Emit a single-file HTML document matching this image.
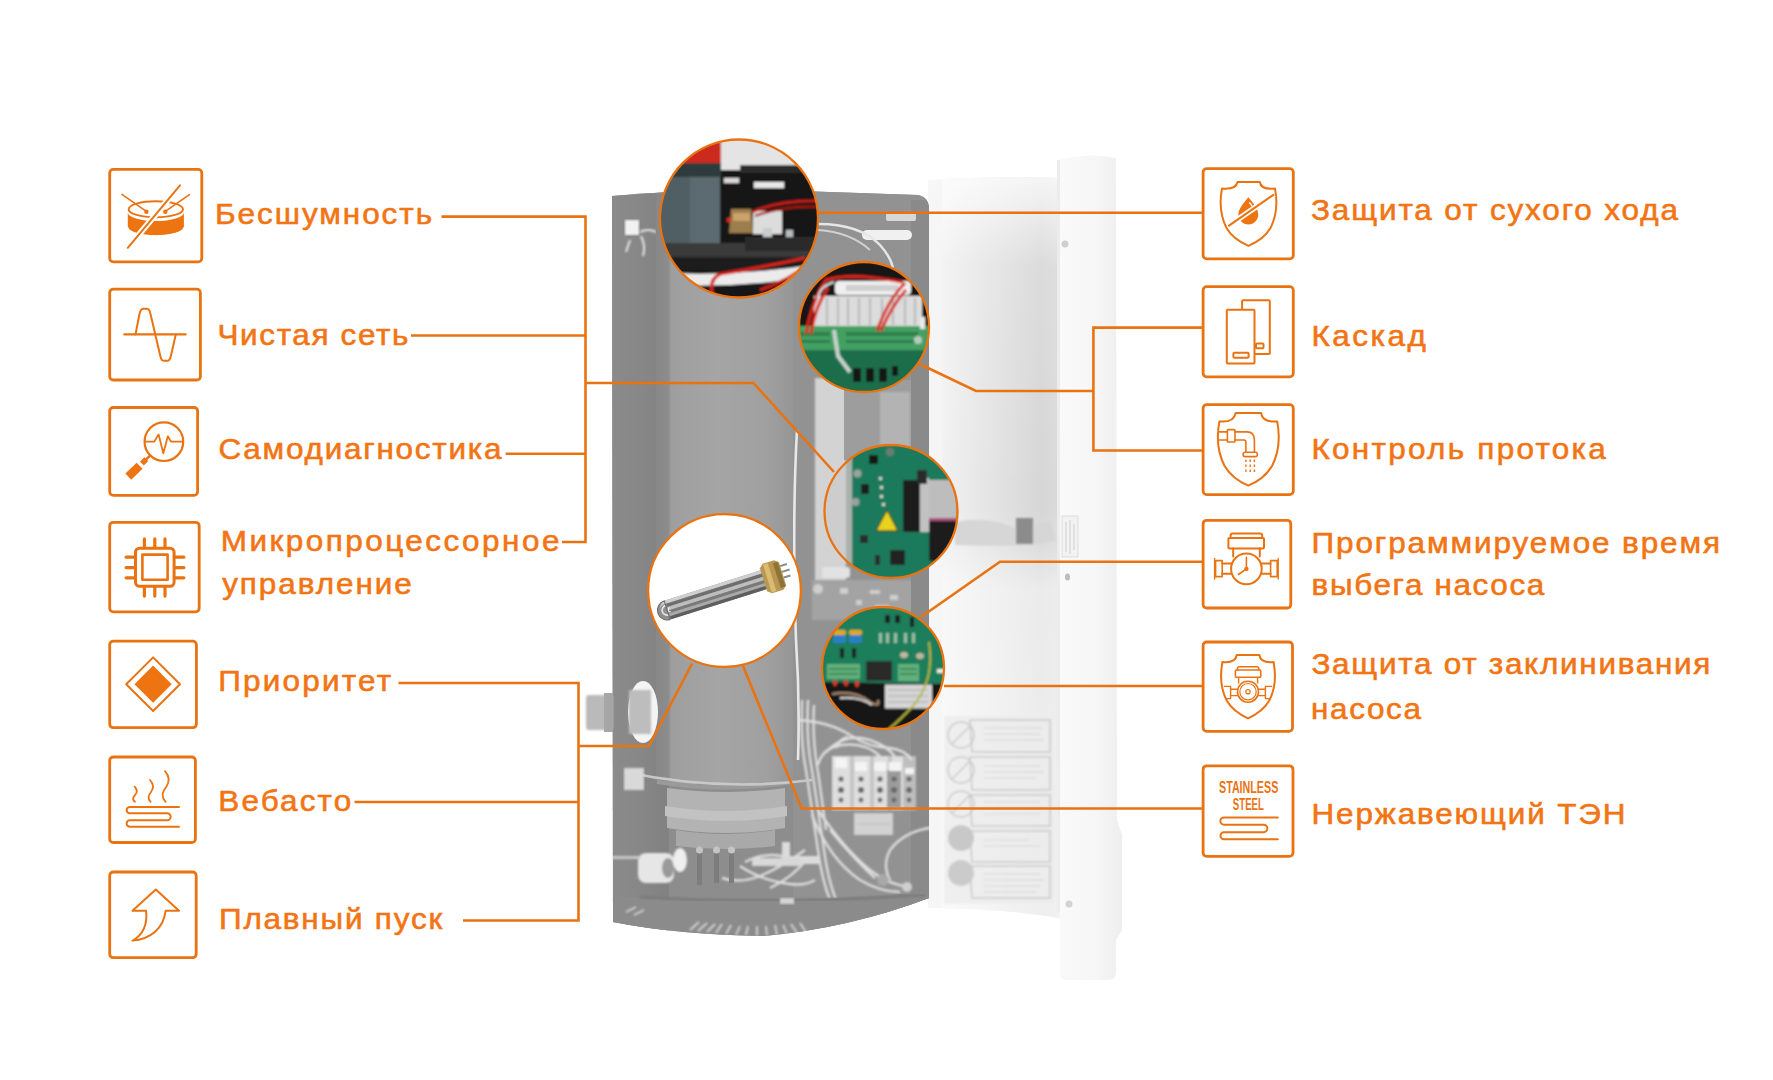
<!DOCTYPE html>
<html lang="ru">
<head>
<meta charset="utf-8">
<title>Электрокотел — особенности</title>
<style>
html,body{margin:0;padding:0;background:#fff;}
body{width:1773px;height:1080px;overflow:hidden;position:relative;}
svg{position:absolute;left:0;top:0;display:block;}
.lbl{font-family:"Liberation Sans",sans-serif;font-weight:400;font-size:28.6px;fill:#F27413;stroke:#F27413;stroke-width:0.55px;}
.ln{stroke:#EA7311;stroke-width:2.6;fill:none;}
.bx{stroke:#EA7311;stroke-width:2.8;fill:#fff;}
.ic{stroke:#EA7311;fill:none;stroke-width:2;stroke-linecap:round;stroke-linejoin:round;}
.icf{fill:#EE7412;stroke:none;}
</style>
</head>
<body>
<svg width="1773" height="1080" viewBox="0 0 1773 1080">
<defs>
  <filter id="blur07" x="-5%" y="-5%" width="110%" height="110%"><feGaussianBlur stdDeviation="1"/></filter>
  <filter id="blur1" x="-5%" y="-5%" width="110%" height="110%"><feGaussianBlur stdDeviation="1"/></filter>
  <filter id="blur2" x="-10%" y="-10%" width="120%" height="120%"><feGaussianBlur stdDeviation="2"/></filter>
</defs>

<!-- BOILER -->
<g id="boiler">
  <defs>
    <linearGradient id="doorIn" x1="0" x2="1" y1="0" y2="0">
      <stop offset="0" stop-color="#f5f5f5"/>
      <stop offset="0.12" stop-color="#f1f1f1"/>
      <stop offset="0.5" stop-color="#e3e3e3"/>
      <stop offset="0.85" stop-color="#d6d6d6"/>
      <stop offset="0.97" stop-color="#dadada"/>
      <stop offset="1" stop-color="#e6e6e6"/>
    </linearGradient>
    <linearGradient id="doorInV" gradientUnits="userSpaceOnUse" x1="0" x2="0" y1="178" y2="910">
      <stop offset="0" stop-color="#fff" stop-opacity="0.75"/>
      <stop offset="0.05" stop-color="#fff" stop-opacity="0.5"/>
      <stop offset="0.12" stop-color="#fff" stop-opacity="0.12"/>
      <stop offset="0.45" stop-color="#fff" stop-opacity="0"/>
      <stop offset="0.5" stop-color="#fff" stop-opacity="0.15"/>
      <stop offset="0.56" stop-color="#fff" stop-opacity="0.5"/>
      <stop offset="1" stop-color="#fff" stop-opacity="0.6"/>
    </linearGradient>
    <linearGradient id="doorFr" x1="0" x2="1" y1="0" y2="0">
      <stop offset="0" stop-color="#fafafa"/>
      <stop offset="0.6" stop-color="#f6f6f6"/>
      <stop offset="1" stop-color="#eeeeee"/>
    </linearGradient>
    <linearGradient id="tank" x1="0" x2="1" y1="0" y2="0">
      <stop offset="0" stop-color="#888888"/>
      <stop offset="0.09" stop-color="#8c8c8c"/>
      <stop offset="0.11" stop-color="#9e9e9e"/>
      <stop offset="0.45" stop-color="#a5a5a5"/>
      <stop offset="0.8" stop-color="#a0a0a0"/>
      <stop offset="1" stop-color="#969696"/>
    </linearGradient>
    <linearGradient id="lpanel" x1="0" x2="1" y1="0" y2="0">
      <stop offset="0" stop-color="#8b8b8b"/>
      <stop offset="0.5" stop-color="#878787"/>
      <stop offset="1" stop-color="#818181"/>
    </linearGradient>
    <linearGradient id="tenG" x1="0" x2="0" y1="0" y2="1">
      <stop offset="0" stop-color="#c9c9c9"/>
      <stop offset="0.3" stop-color="#7d7d7d"/>
      <stop offset="0.5" stop-color="#b5b5b5"/>
      <stop offset="0.75" stop-color="#8a8a8a"/>
      <stop offset="1" stop-color="#5c5c5c"/>
    </linearGradient>
    <clipPath id="cc1"><circle cx="739" cy="218.5" r="79"/></clipPath>
    <clipPath id="cc2"><circle cx="864" cy="327" r="65"/></clipPath>
    <clipPath id="cc3"><circle cx="891" cy="511.5" r="66.5"/></clipPath>
    <clipPath id="cc4"><circle cx="724.5" cy="590.5" r="75.5"/></clipPath>
    <clipPath id="cc5"><circle cx="883" cy="668" r="61"/></clipPath>
    <clipPath id="body"><path d="M612,196 Q700,188 800,191 L918,195 Q929,197 929,210 L929,898 Q850,928 764,936 Q680,935 613,922 Z"/></clipPath>
  </defs>

  <!-- door (behind) -->
  <path d="M928,180 Q990,176 1060,178 L1061,918 Q1000,908 928,908 Z" fill="url(#doorIn)"/>
  <path d="M928,180 Q990,176 1060,178 L1061,918 Q1000,908 928,908 Z" fill="url(#doorInV)"/>
  <rect x="928" y="180" width="14" height="728" fill="#f5f5f5" opacity="0.8"/>
  <path d="M1058,160 Q1088,152 1116,158 L1117,820 L1122,835 L1122,930 L1116,940 L1116,972 Q1116,980 1108,980 L1066,980 Q1060,980 1060,972 Z" fill="url(#doorFr)"/>
  <rect x="1057" y="160" width="3" height="752" fill="#ececec"/>
  <!-- door hinge pins -->
  <circle cx="1065" cy="244" r="3.5" fill="#cfcfcf"/>
  <ellipse cx="1067.5" cy="577" rx="2.5" ry="3.5" fill="#bcbcbc"/>
  <rect x="1062" y="516" width="16" height="41" fill="#f2f2f2" stroke="#d8d8d8" stroke-width="0.8"/>
  <path d="M1066,522 V552 M1070,520 V554 M1074,524 V550" stroke="#c8c8c8" stroke-width="0.8"/>
  <circle cx="1069" cy="904" r="3.5" fill="#d3d3d3"/>
  <!-- ribbon cable to door -->
  <g filter="url(#blur1)">
    <path d="M955,522 Q990,515 1020,530 L1050,520 L1056,540 Q1030,548 955,545 Z" fill="#d6d6d6"/>
    <rect x="1016" y="518" width="17" height="26" fill="#8c8c8c"/>
  </g>
  <!-- door warning labels -->
  <g filter="url(#blur1)" opacity="0.75">
    <rect x="944" y="716" width="110" height="188" fill="#ececec"/>
    <g fill="none" stroke="#bdbdbd" stroke-width="1.6">
      <path d="M970,720 H1050 V752 H972 Z M970,757 H1050 V790 H972 Z M970,795 H1050 V826 H972 Z M970,831 H1050 V862 H972 Z M970,866 H1050 V898 H972 Z"/>
      <circle cx="961" cy="735" r="13"/><circle cx="961" cy="770" r="13"/><circle cx="961" cy="804" r="13"/>
      <path d="M952,744 L970,726 M952,779 L970,761 M952,813 L970,795"/>
    </g>
    <circle cx="961" cy="838" r="13" fill="#b9b9b9"/>
    <circle cx="961" cy="873" r="13" fill="#bdbdbd"/>
    <g stroke="#c9c9c9" stroke-width="1.2">
      <path d="M984,728 H1042 M984,734 H1040 M984,740 H1044 M984,766 H1040 M984,772 H1044 M984,778 H1036 M984,802 H1040 M984,808 H1044 M984,814 H1040 M984,840 H1030 M984,846 H1040 M984,874 H1040 M984,880 H1044 M984,886 H1040 M984,892 H1036"/>
    </g>
  </g>

  <!-- body back panel -->
  <g clip-path="url(#body)">
    <rect x="600" y="180" width="340" height="770" fill="#8d8d8d"/>
    <rect x="612" y="180" width="57" height="770" fill="url(#lpanel)"/>
    <!-- right interior -->
    <rect x="793" y="180" width="140" height="770" fill="#929292"/>
    <rect x="815" y="378" width="31" height="205" fill="#d3d3d3" filter="url(#blur1)"/>
    <rect x="822" y="567" width="28" height="11" rx="3" fill="#e2e2e2" filter="url(#blur07)"/>
    <rect x="844" y="380" width="68" height="80" fill="#9d9d9d"/>
    <rect x="880" y="392" width="30" height="60" fill="#b3b3b3" filter="url(#blur1)"/>
    <rect x="812" y="580" width="100" height="40" fill="#a3a3a3" filter="url(#blur1)"/>
    <g fill="#cfcfcf" filter="url(#blur07)"><circle cx="818" cy="589" r="5"/><rect x="840" y="588" width="8" height="6"/><rect x="856" y="600" width="6" height="5"/><rect x="870" y="590" width="10" height="4"/><rect x="890" y="595" width="8" height="5"/><rect x="875" y="605" width="14" height="4"/></g>
    <rect x="911" y="200" width="18" height="700" fill="#8a8a8a"/>
    <rect x="862" y="230" width="50" height="10" rx="5" fill="#f0f0f0"/>
    <rect x="886" y="213" width="30" height="8" rx="2" fill="#d8d8d8"/>
    <path d="M818,224 Q860,224 880,245 Q895,262 893,275" stroke="#e6e6e6" stroke-width="2.5" fill="none"/>
    <path d="M818,230 Q850,232 870,250" stroke="#d0d0d0" stroke-width="2" fill="none"/>
    <!-- wire loop left side -->
    <path d="M797,430 Q792,520 796,640 Q800,700 798,760" stroke="#e8e8e8" stroke-width="2.6" fill="none"/>
    <!-- lower interior: wires & terminal block -->
    <g filter="url(#blur07)">
      <rect x="832" y="756" width="84" height="54" fill="#dedede"/>
      <g fill="#c4c4c4"><rect x="850" y="756" width="4" height="54"/><rect x="870" y="756" width="4" height="54"/><rect x="888" y="756" width="4" height="54"/></g>
      <rect x="887" y="770" width="14" height="38" fill="#9c9c9c"/>
      <rect x="903" y="756" width="13" height="54" fill="#bdbdbd"/>
      <g fill="#f4f4f4"><rect x="835" y="758" width="12" height="10"/><rect x="855" y="762" width="12" height="9"/><rect x="874" y="762" width="12" height="9"/><rect x="889" y="762" width="12" height="9"/><rect x="905" y="768" width="9" height="6"/></g>
      <g fill="#6a6a6a">
        <circle cx="841" cy="779" r="2.6"/><circle cx="861" cy="779" r="2.6"/><circle cx="880" cy="779" r="2.6"/><circle cx="894" cy="779" r="2.6"/><circle cx="909" cy="779" r="2.6"/>
        <circle cx="841" cy="790" r="3"/><circle cx="861" cy="790" r="3"/><circle cx="880" cy="790" r="3"/><circle cx="894" cy="790" r="3"/><circle cx="909" cy="790" r="3"/>
        <circle cx="841" cy="800" r="2.4"/><circle cx="861" cy="800" r="2.4"/><circle cx="880" cy="800" r="2.4"/><circle cx="894" cy="800" r="2.4"/><circle cx="909" cy="800" r="2.4"/>
      </g>
      <rect x="854" y="813" width="39" height="22" fill="#d2d2d2"/>
      <path d="M857,824 H890" stroke="#bbbbbb" stroke-width="1.2"/>
      <g stroke="#dedede" stroke-width="2.4" fill="none">
        <path d="M802,700 Q800,740 806,770 Q812,810 818,850 Q822,880 830,900"/>
        <path d="M808,700 Q806,740 812,770 Q818,810 824,850 Q828,880 836,900"/>
        <path d="M814,705 Q812,740 818,772 Q822,800 826,830"/>
        <path d="M798,720 Q830,722 850,735 Q870,748 890,748 Q905,750 912,760"/>
        <path d="M818,765 Q822,748 842,745 Q865,742 880,756"/>
        <path d="M826,752 Q845,732 870,740 Q888,746 895,757"/>
        <path d="M836,748 Q840,738 848,737"/>
        <path d="M812,815 Q830,860 860,880 Q880,892 900,892"/>
        <path d="M818,810 Q845,850 870,870 Q890,885 906,886"/>
        <path d="M936,827 Q905,830 890,850 Q882,865 890,880"/>
        <path d="M830,830 Q855,860 875,878"/>
        <path d="M805,850 Q780,868 760,876 Q740,884 722,878"/>
        <path d="M808,858 Q792,878 770,888"/>
        <path d="M745,862 Q772,848 800,862"/>
        <path d="M740,866 Q760,880 790,884 Q805,886 815,880"/>
      </g>
      <circle cx="883" cy="880" r="6" fill="#a9a9a9"/>
      <circle cx="907" cy="887" r="5" fill="#cfcfcf"/>
      <path d="M782,842 h8 v14 h30 v8 h-38 Z" fill="#dcdcdc"/>
      <rect x="752" y="858" width="48" height="8" fill="#d8d8d8"/>
    </g>
    <!-- left upper panel details -->
    <rect x="625" y="220" width="14" height="15" fill="#f2f2f2" filter="url(#blur1)"/>
    <path d="M640,232 Q648,228 656,232 M641,236 Q646,246 643,256 M630,240 L626,252" stroke="#e6e6e6" stroke-width="2" fill="none" filter="url(#blur1)"/>
    <!-- tank -->
    <rect x="656" y="190" width="137" height="594" fill="url(#tank)"/>
    <path d="M657,780 Q725,790 793,780 L793,784 Q725,795 657,784 Z" fill="#9a9a9a"/>
    <!-- strap & bracket -->
    <path d="M625,772 Q720,792 812,780" stroke="#c8c8c8" stroke-width="2.6" fill="none"/>
    <path d="M624,768 H644 V790 H624 Z" fill="#d9d9d9" filter="url(#blur1)"/>
    <!-- flange -->
    <path d="M667,788 Q726,796 785,788 L785,828 Q726,838 667,828 Z" fill="#b3b3b3"/>
    <path d="M665,806 Q726,816 787,806 L787,816 Q726,826 665,816 Z" fill="#c2c2c2"/>
    <path d="M676,830 Q726,838 775,830 L775,846 Q726,852 676,846 Z" fill="#a9a9a9"/>
    <!-- heater pins -->
    <g fill="#7d7d7d">
      <rect x="697" y="847" width="5" height="38"/><rect x="714" y="847" width="5" height="36"/><rect x="729" y="847" width="5" height="36"/>
    </g>
    <g fill="#c4c4c4"><circle cx="699.5" cy="850" r="3.5"/><circle cx="716.5" cy="850" r="3.5"/><circle cx="731.5" cy="850" r="3.5"/></g>
    <!-- hole & fittings left -->
    <ellipse cx="643" cy="712" rx="15" ry="31" fill="#f4f4f4"/>
    <rect x="629" y="690" width="22" height="44" fill="#bdbdbd" filter="url(#blur1)"/>
    <!-- cable gland bottom -->
    <g filter="url(#blur1)">
      <rect x="638" y="853" width="36" height="30" rx="8" fill="#e6e6e6"/>
      <ellipse cx="668" cy="868" rx="6" ry="10" fill="#9a9a9a"/>
      <ellipse cx="680" cy="860" rx="7" ry="12" fill="#efefef"/>
      <rect x="610" y="856" width="30" height="3" fill="#c8c8c8"/>
    </g>
    <!-- base plate & slats -->
    <path d="M613,896 Q770,906 929,892 L929,900 Q850,930 764,938 Q680,937 613,924 Z" fill="#8b8b8b"/>
    <path d="M640,897 Q770,905 925,895" stroke="#7c7c7c" stroke-width="3" fill="none" filter="url(#blur1)"/>
    <g stroke="#d6d6d6" stroke-width="1.8" filter="url(#blur07)">
      <path d="M690,930 L699,922 M698,931 L707,923 M707,932 L715,924 M716,933 L722,924 M726,934 L731,925 M736,935 L740,926 M746,935 L748,926 M757,936 L757,926 M767,936 L766,926 M777,935 L775,925 M787,934 L783,925 M797,933 L791,924 M806,932 L800,923"/>
      <path d="M626,912 L636,907 M634,915 L644,910"/>
    </g>
    <path d="M780,898 h14 v6 h-14 Z" fill="#d5d5d5" filter="url(#blur07)"/>
  </g>

  <!-- left fitting outside body -->
  <rect x="586" y="695" width="27" height="35" rx="3" fill="#bababa" filter="url(#blur1)"/>
  <rect x="604" y="693" width="9" height="39" fill="#a6a6a6"/>

  <!-- circle 1: dry-run sensor -->
  <g clip-path="url(#cc1)"><g filter="url(#blur07)">
    <rect x="650" y="130" width="180" height="180" fill="#121212"/>
    <rect x="718" y="130" width="110" height="40" fill="#e4e4e4"/>
    <rect x="740" y="165" width="90" height="8" fill="#2a2a2a"/>
    <rect x="655" y="130" width="66" height="36" fill="#cc2b1d"/>
    <rect x="655" y="163" width="66" height="14" fill="#2f3a3e"/>
    <rect x="660" y="177" width="60" height="76" fill="#4f5e64"/>
    <rect x="690" y="177" width="30" height="76" fill="#5c6b71"/>
    <rect x="724" y="178" width="15" height="5" fill="#d8d8d8"/>
    <rect x="754" y="182" width="30" height="6" fill="#e8e8e8"/>
    <rect x="753" y="211" width="29" height="23" fill="#dcdcdc"/>
    <path d="M731,209 h20 l2,24 h-24 Z" fill="#9c7d4d"/>
    <rect x="733" y="213" width="17" height="8" fill="#c9a36a"/>
    <circle cx="729" cy="220" r="2.5" fill="#d92b20"/>
    <rect x="763" y="228" width="9" height="10" fill="#c8ccd0"/>
    <rect x="786" y="230" width="7" height="12" fill="#b8bcc0"/>
    <rect x="655" y="243" width="175" height="14" fill="#3b3b3b"/>
    <rect x="745" y="237" width="80" height="14" fill="#2c2c2c"/>
    <rect x="655" y="257" width="175" height="13" fill="#1a1a1a"/>
    <path d="M650,272 Q740,278 830,262 L830,290 L650,290 Z" fill="#ebebeb"/>
    <path d="M650,284 Q740,290 830,274 L830,300 L650,300 Z" fill="#161616"/>
    <path d="M752,212 Q780,200 820,201" stroke="#c81e16" stroke-width="2.8" fill="none"/>
    <path d="M755,216 Q785,205 820,207" stroke="#a8170f" stroke-width="2.2" fill="none"/>
    <path d="M713,296 Q708,280 720,274 Q760,268 805,258" stroke="#d8221a" stroke-width="3.2" fill="none"/>
    <path d="M760,290 Q790,280 812,262" stroke="#c81b14" stroke-width="3" fill="none"/>
  </g></g>
  <circle cx="739" cy="218.5" r="79" fill="none" stroke="#EA7311" stroke-width="2.3"/>

  <!-- circle 2: relays -->
  <g clip-path="url(#cc2)"><g filter="url(#blur07)">
    <rect x="795" y="258" width="140" height="140" fill="#161616"/>
    <rect x="835" y="281" width="76" height="14" rx="4" fill="#efefef"/>
    <rect x="846" y="285" width="52" height="6" fill="#cfcfcf"/>
    <rect x="814" y="296" width="108" height="31" fill="#dcdcdc"/>
    <g stroke="#a9a9a9" stroke-width="1.4">
      <path d="M827,298 V325 M838,298 V325 M848,298 V325 M859,298 V325 M870,298 V325 M882,298 V325 M893,298 V325 M905,298 V325 M915,298 V325"/>
    </g>
    <rect x="795" y="326" width="140" height="24" fill="#43a064"/>
    <g fill="#2d7f4a"><rect x="800" y="332" width="30" height="4"/><rect x="846" y="332" width="72" height="4"/><rect x="800" y="340" width="30" height="3"/><rect x="846" y="340" width="72" height="3"/></g>
    <rect x="795" y="350" width="140" height="48" fill="#1c6e4c"/>
    <g fill="#141414"><rect x="853" y="368" width="8" height="14"/><rect x="866" y="368" width="8" height="14"/><rect x="879" y="368" width="8" height="14"/><rect x="892" y="366" width="6" height="10"/></g>
    <path d="M834,330 L838,356 L850,372" stroke="#c7d3cc" stroke-width="4" fill="none"/>
    <g stroke="#d8281c" stroke-width="3" fill="none">
      <path d="M806,334 Q812,300 826,280 Q850,272 903,282"/>
      <path d="M811,334 Q815,306 828,288"/>
      <path d="M877,331 Q888,300 905,283"/>
      <path d="M881,331 Q892,305 906,290"/>
    </g>
    <path d="M818,298 Q820,286 834,282" stroke="#e0e0e0" stroke-width="2" fill="none"/>
    <rect x="920" y="317" width="5" height="12" fill="#eaeaea"/>
    <circle cx="918" cy="340" r="4" fill="#b9c9bf"/>
  </g></g>
  <circle cx="864" cy="327" r="65" fill="none" stroke="#EA7311" stroke-width="2.3"/>

  <!-- circle 3: main PCB -->
  <g clip-path="url(#cc3)"><g filter="url(#blur07)">
    <rect x="820" y="440" width="145" height="145" fill="#1e7a5b"/>
    <rect x="820" y="440" width="31" height="145" fill="#cdcdcd"/>
    <rect x="846" y="440" width="6" height="145" fill="#a9b2ad"/>
    <rect x="903" y="480" width="17" height="52" fill="#1b1b1b"/>
    <rect x="920" y="478" width="9" height="54" fill="#c2c2c2"/>
    <rect x="929" y="480" width="28" height="41" fill="#bdbdbd"/>
    <rect x="929" y="518" width="28" height="3" fill="#a0205a" opacity="0.7"/>
    <rect x="929" y="521" width="30" height="40" fill="#1d1d1d"/>
    <rect x="917" y="470" width="10" height="14" fill="#2a2a2a"/>
    <path d="M887,510 L898,531 H876 Z" fill="#e8d21c" stroke="#222" stroke-width="1"/>
    <rect x="890" y="550" width="15" height="15" fill="#202020"/>
    <rect x="861" y="484" width="8" height="10" fill="#1a1a1a"/>
    <rect x="869" y="455" width="9" height="9" fill="#181818"/>
    <circle cx="857.5" cy="473.5" r="4" fill="#9aa39e"/>
    <circle cx="855.5" cy="502" r="4" fill="#9aa39e"/>
    <circle cx="890" cy="452" r="4" fill="#6c7d74"/>
    <g fill="#cfd8cc"><rect x="879" y="477" width="3" height="3"/><rect x="880" y="486" width="3" height="3"/><rect x="880" y="495" width="3" height="3"/><rect x="882" y="503" width="3" height="3"/></g>
    <rect x="860" y="535" width="8" height="8" fill="#2a2a2a"/>
    <rect x="875" y="555" width="5" height="10" fill="#2a2a2a"/>
  </g></g>
  <circle cx="891" cy="511.5" r="66.5" fill="none" stroke="#EA7311" stroke-width="2.3"/>

  <!-- circle 4: TEN -->
  <circle cx="724.5" cy="590.5" r="76.4" fill="#fff"/>
  <g transform="translate(712,596) rotate(-17.5)">
    <path d="M-47,-9.8 H58 V9.8 H-47 A9.8,9.8 0 0 1 -47,-9.8 Z" fill="#8e8e8e"/>
    <path d="M-47,-9.8 H58 V-6.6 H-47 A6.6,6.6 0 0 0 -53.6,-3.2 A9.8,9.8 0 0 1 -47,-9.8 Z" fill="#cfcfcf"/>
    <path d="M-46,-6.2 H58 V-3 H-46 Z" fill="#6e6e6e"/>
    <path d="M-46,-3 H58 V0.6 H-46 Z" fill="#bdbdbd"/>
    <path d="M-46,0.6 H58 V3.6 H-46 Z" fill="#7a7a7a"/>
    <path d="M-46,3.6 H58 V6.6 H-46 Z" fill="#a9a9a9"/>
    <path d="M-46,6.6 H58 V9.8 H-46 Z" fill="#5e5e5e"/>
    <path d="M-47,-5 A5,5 0 0 0 -47,5" stroke="#e6e6e6" stroke-width="1.6" fill="none"/>
    <path d="M-44,-1.5 A2,2 0 0 0 -44,2.5" stroke="#f2f2f2" stroke-width="1.2" fill="none"/>
    <path d="M-56.8,0 A9.8,9.8 0 0 1 -47,-9.8 V9.8 A9.8,9.8 0 0 1 -56.8,0 Z" fill="none" stroke="#6a6a6a" stroke-width="1"/>
    <path d="M54,-12 L58,-15.5 H70 L74,-12 V12 L70,15.5 H58 L54,12 Z" fill="#b8984f"/>
    <rect x="58" y="-14.5" width="5" height="29" fill="#d9bb74"/>
    <rect x="68" y="-13" width="5" height="26" fill="#8f7338"/>
    <path d="M74,-8 h7 M74,-2 h8 M74,4 h7" stroke="#8a8a8a" stroke-width="2"/>
  </g>
  <circle cx="724.5" cy="590.5" r="76.4" fill="none" stroke="#EA7311" stroke-width="2.4"/>

  <!-- circle 5: lower PCB -->
  <g clip-path="url(#cc5)"><g filter="url(#blur07)">
    <rect x="818" y="603" width="130" height="130" fill="#131313"/>
    <path d="M818,603 H948 V684 L818,682 Z" fill="#1f7e5a"/>
    <rect x="885" y="684.5" width="47" height="24" fill="#d6d6d6"/>
    <g stroke="#a9a9a9" stroke-width="1"><path d="M888,690 H928 M888,696 H928 M888,702 H928"/></g>
    <rect x="866" y="661" width="26" height="20" fill="#2a2a2a"/>
    <rect x="827" y="664" width="33" height="15" fill="#62b07c"/>
    <rect x="898" y="664" width="21" height="17" fill="#62b07c"/>
    <g fill="#3d8a58"><rect x="829" y="668" width="29" height="2"/><rect x="829" y="673" width="29" height="2"/><rect x="900" y="668" width="17" height="2"/><rect x="900" y="673" width="17" height="2"/></g>
    <rect x="833" y="630" width="13" height="5" rx="2" fill="#e0aa20"/>
    <rect x="833" y="635" width="13" height="8" rx="2" fill="#2a7fc4"/>
    <rect x="849" y="630" width="13" height="5" rx="2" fill="#e0aa20"/>
    <rect x="849" y="635" width="13" height="8" rx="2" fill="#2a7fc4"/>
    <g fill="#1a1a1a"><rect x="885" y="615" width="5" height="8"/><rect x="895" y="615" width="5" height="8"/><rect x="910" y="617" width="4" height="10"/><rect x="840" y="648" width="4" height="10"/><rect x="852" y="648" width="4" height="10"/></g>
    <g fill="#9bbfa6"><rect x="879" y="633" width="3" height="10"/><rect x="886" y="633" width="3" height="10"/><rect x="894" y="633" width="3" height="10"/><rect x="904" y="633" width="3" height="10"/><rect x="912" y="633" width="3" height="10"/></g>
    <ellipse cx="904" cy="655" rx="4" ry="3" fill="#c7b7a0"/>
    <ellipse cx="920" cy="656" rx="4" ry="3" fill="#c7b7a0"/>
    <g fill="#d63a2a"><rect x="833" y="680" width="4" height="6" rx="2"/><rect x="844" y="680" width="4" height="6" rx="2"/><rect x="855" y="681" width="4" height="6" rx="2"/></g>
    <path d="M832,694 Q855,690 870,702 Q880,708 878,700" stroke="#a0806a" stroke-width="2.5" fill="none"/>
    <path d="M840,698 Q860,696 872,705" stroke="#d8d8d8" stroke-width="2" fill="none"/>
    <path d="M929,642 Q935,680 913,706 Q900,720 889,729" stroke="#b6b63c" stroke-width="2" fill="none"/>
    <rect x="937" y="669" width="10" height="4" fill="#eaeaea"/>
  </g></g>
  <circle cx="883" cy="668" r="61" fill="none" stroke="#EA7311" stroke-width="2.3"/>
</g>

<!-- CONNECTOR LINES -->
<g id="lines" class="ln">
  <!-- left group A -->
  <path d="M441.5,216.6 H585.5 V542 H562"/>
  <path d="M411,335.5 H585.5"/>
  <path d="M505.7,453.7 H585.5"/>
  <path d="M585.5,383 H753.5 L834,472"/>
  <!-- left group B -->
  <path d="M398.5,683 H578.5 V920.5 H463"/>
  <path d="M354.5,802 H578.5"/>
  <path d="M578.5,746 H649 L692,663.6"/>
  <!-- right -->
  <path d="M819,212.8 H1202"/>
  <path d="M1202,327.6 H1093.4 V450.5 H1202"/>
  <path d="M1093.4,391 H976 L919.6,364"/>
  <path d="M1202,561.7 H1000 L921,617"/>
  <path d="M944,686 H1202"/>
  <path d="M1202,808.5 H801.7 L743,666"/>
</g>

<!-- ICON BOXES -->
<g id="boxes">
  <!-- left boxes -->
  <rect class="bx" x="109.7" y="169.4" width="92.1" height="92.4" rx="3.6"/>
  <rect class="bx" x="109.7" y="289.2" width="90.7" height="90.8" rx="3.6"/>
  <rect class="bx" x="109.7" y="407.5" width="87.9" height="87.8" rx="3.6"/>
  <rect class="bx" x="109.7" y="522.3" width="89.5" height="89.6" rx="3.6"/>
  <rect class="bx" x="109.7" y="641.2" width="86.7" height="86.5" rx="3.6"/>
  <rect class="bx" x="109.7" y="757" width="85.7" height="85.5" rx="3.6"/>
  <rect class="bx" x="109.7" y="872" width="86.5" height="85.7" rx="3.6"/>
  <!-- right boxes -->
  <rect class="bx" x="1203.1" y="168.6" width="90.2" height="90.3" rx="3.6"/>
  <rect class="bx" x="1203.1" y="286.6" width="90.2" height="90.3" rx="3.6"/>
  <rect class="bx" x="1203.1" y="404.7" width="90.2" height="89.9" rx="3.6"/>
  <rect class="bx" x="1203.1" y="520.3" width="87.7" height="87.7" rx="3.6"/>
  <rect class="bx" x="1203.1" y="642" width="89.4" height="89.4" rx="3.6"/>
  <rect class="bx" x="1203.1" y="765.8" width="89.9" height="90.6" rx="3.6"/>

  <!-- L1 drum -->
  <g>
    <path class="icf" d="M127.8,212.5 L127.8,227 A28,8.6 0 0 0 183.9,227 L183.9,212.5 A28,8.6 0 0 1 127.8,212.5 Z"/>
    <path d="M127.8,227.5 A28,8.6 0 0 0 183.9,227.5" stroke="#fff" stroke-width="1.6" fill="none"/>
    <ellipse cx="155.8" cy="209.2" rx="27.2" ry="8" fill="#fff" stroke="#EA7311" stroke-width="1.9"/>
    <path d="M121.9,194.4 L146.7,211.7 M189.4,194.7 L165,211.7" stroke="#EA7311" stroke-width="1.6" stroke-linecap="round"/>
    <circle class="icf" cx="146.4" cy="211.7" r="2.2"/>
    <circle class="icf" cx="165.3" cy="211.7" r="2.2"/>
    <path d="M180,185.3 L127.8,247.8" stroke="#fff" stroke-width="6"/>
    <path d="M180,185.3 L127.8,247.8" stroke="#EA7311" stroke-width="2" stroke-linecap="round"/>
  </g>
  <!-- L2 sine -->
  <g class="ic">
    <path d="M124.3,334.4 H185.7" stroke-width="2.2"/>
    <path d="M135.5,334.4 L139.5,314 C140.8,307.8 142.8,308.8 145,308.8 C147.2,308.8 149.3,307.8 150.5,314 L160.2,355.5 C161.4,361.6 163.4,360.7 165.6,360.7 C167.8,360.7 169.8,361.6 171,355.5 L175.8,334.4"/>
  </g>
  <!-- L3 magnifier -->
  <g class="ic">
    <circle cx="163.9" cy="441.7" r="19.3" stroke-width="2.2"/>
    <path d="M144.8,441.7 H154.2 L158.6,434.4 L163.3,453.3 L167.8,436.3 L171.1,441.7 H183" stroke-width="1.8"/>
    <path d="M150,455.6 L146.5,459.1" stroke-width="2.4"/>
  </g>
  <path d="M139.6,465.7 L128.3,476.6" stroke="#EE7412" stroke-width="8.5"/>
  <path d="M146.3,459.3 L141.9,463.6" stroke="#EE7412" stroke-width="5.5"/>
  <!-- L4 chip -->
  <g class="ic" stroke-linecap="butt">
    <rect x="135.5" y="548.2" width="38.6" height="38.1" rx="4" stroke-width="3"/>
    <rect x="142.4" y="554.6" width="25.2" height="25.2" stroke-width="2.6"/>
    <path d="M144.4,538.9 V547 M154.8,538.9 V547 M165,538.9 V547 M144.4,587.5 V596.1 M154.8,587.5 V596.1 M165,587.5 V596.1 M126.1,557.2 H134 M126.1,567.6 H134 M126.1,577.8 H134 M175.6,557.2 H183.9 M175.6,567.6 H183.9 M175.6,577.8 H183.9" stroke-width="3.2"/>
  </g>
  <!-- L5 diamond -->
  <path class="ic" d="M153.1,657.4 L180,684.2 L153.1,711 L126.2,684.2 Z" stroke-width="2"/>
  <path class="icf" d="M153.1,665.6 L171.7,684.2 L153.1,702.8 L134.5,684.2 Z" stroke="#EE7412" stroke-width="1" stroke-linejoin="round"/>
  <!-- L6 heat -->
  <g class="ic" stroke-width="2">
    <path d="M179,807 H129.8 A3.15,3.15 0 0 0 129.8,813.3 H167.2 A3.5,3.5 0 0 1 167.2,820.3 H129.8 A3.2,3.2 0 0 0 129.8,826.7 H179"/>
    <path d="M134.6,786.7 C137.6,790 137.6,792.5 135,795.2 C132.4,798 132.6,800 135,801.8" stroke-width="1.8"/>
    <path d="M150,780 C153.6,784 154,788 151,792 C147.6,796 147.8,799 150.6,801.8" stroke-width="1.8"/>
    <path d="M165,771.2 C169.2,776 170.2,781 166.2,787 C161.6,793 161.4,797 165.6,801.8" stroke-width="1.8"/>
  </g>
  <!-- L7 arrow -->
  <path class="ic" stroke-width="2" stroke-linejoin="miter" d="M155.8,889.5 L132.5,910.8 H146.1 C147.6,925 142.5,935 132.5,940.6 C150,939 163.5,929 165.6,910.8 H179 Z"/>

  <!-- R1 shield with drop -->
  <path class="ic" stroke-width="1.8" d="M1237.5,182 H1259.8 C1260.5,187.5 1265,189.5 1275,188.6 C1277.4,201 1277,215 1270.5,228 C1265.5,236.5 1257.5,242 1248.5,245.8 C1239.5,242 1231.5,236.5 1226.5,228 C1220,215 1219.6,201 1222,188.6 C1232,189.5 1236.5,187.5 1237.5,182 Z"/>
  <path class="icf" d="M1248.4,197.2 C1252,202 1258.3,208 1258.3,214.5 C1258.3,220 1254,224.4 1248.4,224.4 C1242.8,224.4 1238.4,220 1238.4,214.5 C1238.4,208 1244.8,202 1248.4,197.2 Z"/>
  <path d="M1274,194.4 L1228.3,226.1" stroke="#fff" stroke-width="5.5"/>
  <path d="M1274,194.4 L1228.3,226.1" stroke="#EA7311" stroke-width="2"/>
  <path d="M1249.3,202.5 L1252.5,206.3" stroke="#fff" stroke-width="1.2"/>
  <!-- R2 cascade -->
  <g class="ic" stroke-width="1.6">
    <rect x="1242.1" y="300.2" width="27.7" height="53.8" rx="1"/>
    <rect x="1256" y="343.6" width="7.5" height="4.6" rx="1"/>
    <rect x="1226.8" y="309.8" width="27.7" height="53.8" rx="1" fill="#fff"/>
    <rect x="1233.4" y="352.8" width="15.2" height="5" rx="1"/>
  </g>
  <!-- R3 shield with tap -->
  <g class="ic" stroke-width="1.9">
    <path d="M1235.6,413.1 H1261.1 C1262,419.5 1267,422.3 1277.2,421.4 C1280,436 1279.2,452 1272,466 C1266,476 1258,481.5 1248.3,485.6 C1238.6,481.5 1230.6,476 1224.6,466 C1217.4,452 1216.6,436 1219.4,421.4 C1229.6,422.3 1234.6,419.5 1235.6,413.1 Z"/>
    <path d="M1219.4,431.9 H1227.4 M1219.4,440 H1227.4" stroke-width="1.6"/>
    <rect x="1227.4" y="429.6" width="7.6" height="12.4" rx="0.8" stroke-width="1.6"/>
    <path d="M1235,431.9 H1247 C1251.6,431.9 1254.4,435 1254.4,440 V452.2 M1235,440 H1244 C1245.3,440 1245.9,441 1245.9,442.5 V452.2" stroke-width="1.6"/>
    <rect x="1243.1" y="452.3" width="14.3" height="4.3" rx="2.1" stroke-width="1.6"/>
    <path d="M1245.9,459.5 V474.5 M1250.2,459.5 V474.5 M1254.4,459.5 V474.5" stroke-width="1.4" stroke-dasharray="2.6 2.4" stroke-linecap="butt"/>
  </g>
  <!-- R4 pump with clock -->
  <g class="ic" stroke-width="1.7">
    <circle cx="1246.4" cy="568.9" r="15.3"/>
    <path d="M1233.2,548.3 V556.5 M1259.8,548.3 V556.5"/>
    <rect x="1228.4" y="538" width="35.6" height="10.4" rx="0.8"/>
    <path d="M1230.6,538 V535.6 C1230.6,534 1231.6,533.4 1233,533.4 H1259.8 C1261.2,533.4 1262.2,534 1262.2,535.6 V538"/>
    <path d="M1222.2,563.4 H1231.2 M1222.2,573.8 H1231.2 M1261.6,563.4 H1270.6 M1261.6,573.8 H1270.6"/>
    <rect x="1215.6" y="560.6" width="6.6" height="16" stroke-width="1.6"/>
    <rect x="1270.6" y="560.6" width="6.6" height="16" stroke-width="1.6"/>
    <path d="M1214.6,558.4 V579 M1278.2,558.4 V579" stroke-width="1.4"/>
    <path d="M1246.4,557.2 V568.9 L1238.4,574.5" stroke-width="1.6"/>
  </g>
  <circle class="icf" cx="1246.4" cy="568.9" r="2.2"/>
  <!-- R5 shield with pump -->
  <g class="ic" stroke-width="1.7">
    <path d="M1236.7,655 H1259.4 C1260.2,660.6 1264.5,663 1273.6,662 C1276,675 1275.4,689 1269,701 C1264,709.5 1256.5,714.5 1248,718.3 C1239.5,714.5 1232,709.5 1227,701 C1220.6,689 1220,675 1222.4,662 C1231.5,663 1235.8,660.6 1236.7,655 Z"/>
    <rect x="1235.4" y="670" width="25.4" height="7.3" rx="0.8" stroke-width="1.5"/>
    <path d="M1237.4,670 V668.6 C1237.4,667.4 1238.2,666.8 1239.4,666.8 H1256.8 C1258,666.8 1258.8,667.4 1258.8,668.6 V670" stroke-width="1.5"/>
    <path d="M1238.6,677.4 V683 M1257.6,677.4 V683" stroke-width="1.4"/>
    <circle cx="1248" cy="691.7" r="10.5" stroke-width="1.6"/>
    <circle cx="1248" cy="691.7" r="8.2" stroke-width="1.2"/>
    <circle cx="1248" cy="691.7" r="2.2" stroke-width="1.2"/>
    <path d="M1224.4,686.4 H1230.6 V698.6 H1226.6" stroke-width="1.4"/>
    <path d="M1230.6,689.2 H1237.6 M1230.6,695.6 H1237.6" stroke-width="1.4"/>
    <path d="M1271.6,686.4 H1265.4 V698.6 H1269.4" stroke-width="1.4"/>
    <path d="M1265.4,689.2 H1258.4 M1265.4,695.6 H1258.4" stroke-width="1.4"/>
  </g>
  <!-- R6 stainless -->
  <text x="1219" y="793.4" textLength="59.3" lengthAdjust="spacingAndGlyphs" font-family="Liberation Sans, sans-serif" font-weight="700" font-size="16" fill="#EA7311">STAINLESS</text>
  <text x="1232.8" y="809.5" textLength="31.1" lengthAdjust="spacingAndGlyphs" font-family="Liberation Sans, sans-serif" font-weight="700" font-size="16" fill="#EA7311">STEEL</text>
  <path class="ic" stroke-width="2" d="M1277.8,817.4 H1224 A3.65,3.65 0 0 0 1224,824.7 H1263.6 A3.75,3.75 0 0 1 1263.6,832.2 H1224 A3.5,3.5 0 0 0 1224,839.2 H1277.8"/>
</g>

<!-- LABELS -->
<g id="labels" class="lbl">
  <text transform="translate(215.0,224.3) scale(1.1,1)" textLength="197.3" lengthAdjust="spacing">Бесшумность</text>
  <text transform="translate(217.5,345.3) scale(1.1,1)" textLength="173.6" lengthAdjust="spacing">Чистая сеть</text>
  <text transform="translate(218.5,458.8) scale(1.1,1)" textLength="257.3" lengthAdjust="spacing">Самодиагностика</text>
  <text transform="translate(220.8,551.0) scale(1.1,1)" textLength="307.8" lengthAdjust="spacing">Микропроцессорное</text>
  <text transform="translate(222.2,594.4) scale(1.1,1)" textLength="172.4" lengthAdjust="spacing">управление</text>
  <text transform="translate(218.3,691.3) scale(1.1,1)" textLength="157.1" lengthAdjust="spacing">Приоритет</text>
  <text transform="translate(218.3,810.8) scale(1.1,1)" textLength="120.9" lengthAdjust="spacing">Вебасто</text>
  <text transform="translate(219.0,929.4) scale(1.1,1)" textLength="202.9" lengthAdjust="spacing">Плавный пуск</text>
  <text transform="translate(1311.0,220.3) scale(1.1,1)" textLength="333.6" lengthAdjust="spacing">Защита от сухого хода</text>
  <text transform="translate(1311.5,346.0) scale(1.1,1)" textLength="104.0" lengthAdjust="spacing">Каскад</text>
  <text transform="translate(1311.5,459.3) scale(1.1,1)" textLength="267.6" lengthAdjust="spacing">Контроль протока</text>
  <text transform="translate(1311.6,552.8) scale(1.1,1)" textLength="371.3" lengthAdjust="spacing">Программируемое время</text>
  <text transform="translate(1311.6,595.2) scale(1.1,1)" textLength="211.5" lengthAdjust="spacing">выбега насоса</text>
  <text transform="translate(1311.4,673.8) scale(1.1,1)" textLength="362.7" lengthAdjust="spacing">Защита от заклинивания</text>
  <text transform="translate(1311.0,719.4) scale(1.1,1)" textLength="100.0" lengthAdjust="spacing">насоса</text>
  <text transform="translate(1311.5,823.6) scale(1.1,1)" textLength="285.5" lengthAdjust="spacing">Нержавеющий ТЭН</text>
</g>
</svg>
</body>
</html>
